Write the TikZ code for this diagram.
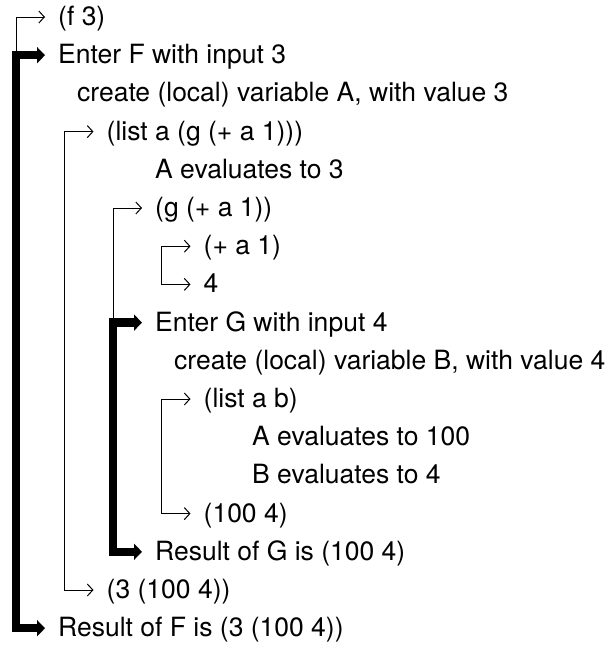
\documentclass[tikz,border=0pt]{standalone}
\usepackage{fontspec}
\setmainfont{TeX Gyre Heros}
\usetikzlibrary{arrows.meta}
\newcommand\tipof[1]{([xshift=-13pt,yshift=8.5pt]#1.base west)}
\newcommand\cornerof[1]{([xshift=-42pt,yshift=8.5pt]#1.base west)}
\begin{document}
\begin{tikzpicture}[x=1pt,y=-1pt,
  txt/.style={anchor=base west, inner sep=0pt, font=\fontsize{26.5}{30}\selectfont},
  evalline/.style={line width=1pt, line join=miter},
  evalboth/.style={evalline, {Straight Barb[length=5.5pt,width=12pt]}-{Straight Barb[length=5.5pt,width=12pt]}},
  evalend/.style={evalline, -{Straight Barb[length=5.5pt,width=12pt]}},
  callline/.style={line width=8.5pt, line join=miter, {Triangle[length=8pt,width=16pt]}-{Triangle[length=8pt,width=16pt]}}]
\useasboundingbox (0,0) rectangle (613,646);
% text lines
\node[txt] (l1)  at (58,25.5)   {(f 3)};
\node[txt] (l2)  at (58,63.7)   {Enter F with input 3};
\node[txt] (l3)  at (77,101.9)  {create (local) variable A, with value 3};
\node[txt] (l4)  at (106.5,140.1) {(list a (g (+ a 1)))};
\node[txt] (l5)  at (155,178.3) {A evaluates to 3};
\node[txt] (l6)  at (155,216.5) {(g (+ a 1))};
\node[txt] (l7)  at (203.5,254.7) {(+ a 1)};
\node[txt] (l8)  at (203.5,292.9) {4};
\node[txt] (l9)  at (155,331.1) {Enter G with input 4};
\node[txt] (l10) at (174,369.3) {create (local) variable B, with value 4};
\node[txt] (l11) at (203.5,407.5) {(list a b)};
\node[txt] (l12) at (252,445.7) {A evaluates to 100};
\node[txt] (l13) at (252,483.9) {B evaluates to 4};
\node[txt] (l14) at (203.5,522.1) {(100 4)};
\node[txt] (l15) at (155,560.3) {Result of G is (100 4)};
\node[txt] (l16) at (106.5,598.5) {(3 (100 4))};
\node[txt] (l17) at (58,636.7)  {Result of F is (3 (100 4))};
% thin evaluation brackets
\draw[evalend] \cornerof{l2} -- \cornerof{l1} -- \tipof{l1};
\draw[evalboth] \tipof{l4} -- \cornerof{l4} -- \cornerof{l16} -- \tipof{l16};
\draw[evalend] \cornerof{l9} -- \cornerof{l6} -- \tipof{l6};
\draw[evalboth] \tipof{l7} -- \cornerof{l7} -- \cornerof{l8} -- \tipof{l8};
\draw[evalboth] \tipof{l11} -- \cornerof{l11} -- \cornerof{l14} -- \tipof{l14};
% thick function-call brackets
\draw[callline] \tipof{l2} -- \cornerof{l2} -- \cornerof{l17} -- \tipof{l17};
\draw[callline] \tipof{l9} -- \cornerof{l9} -- \cornerof{l15} -- \tipof{l15};
\end{tikzpicture}
\end{document}
